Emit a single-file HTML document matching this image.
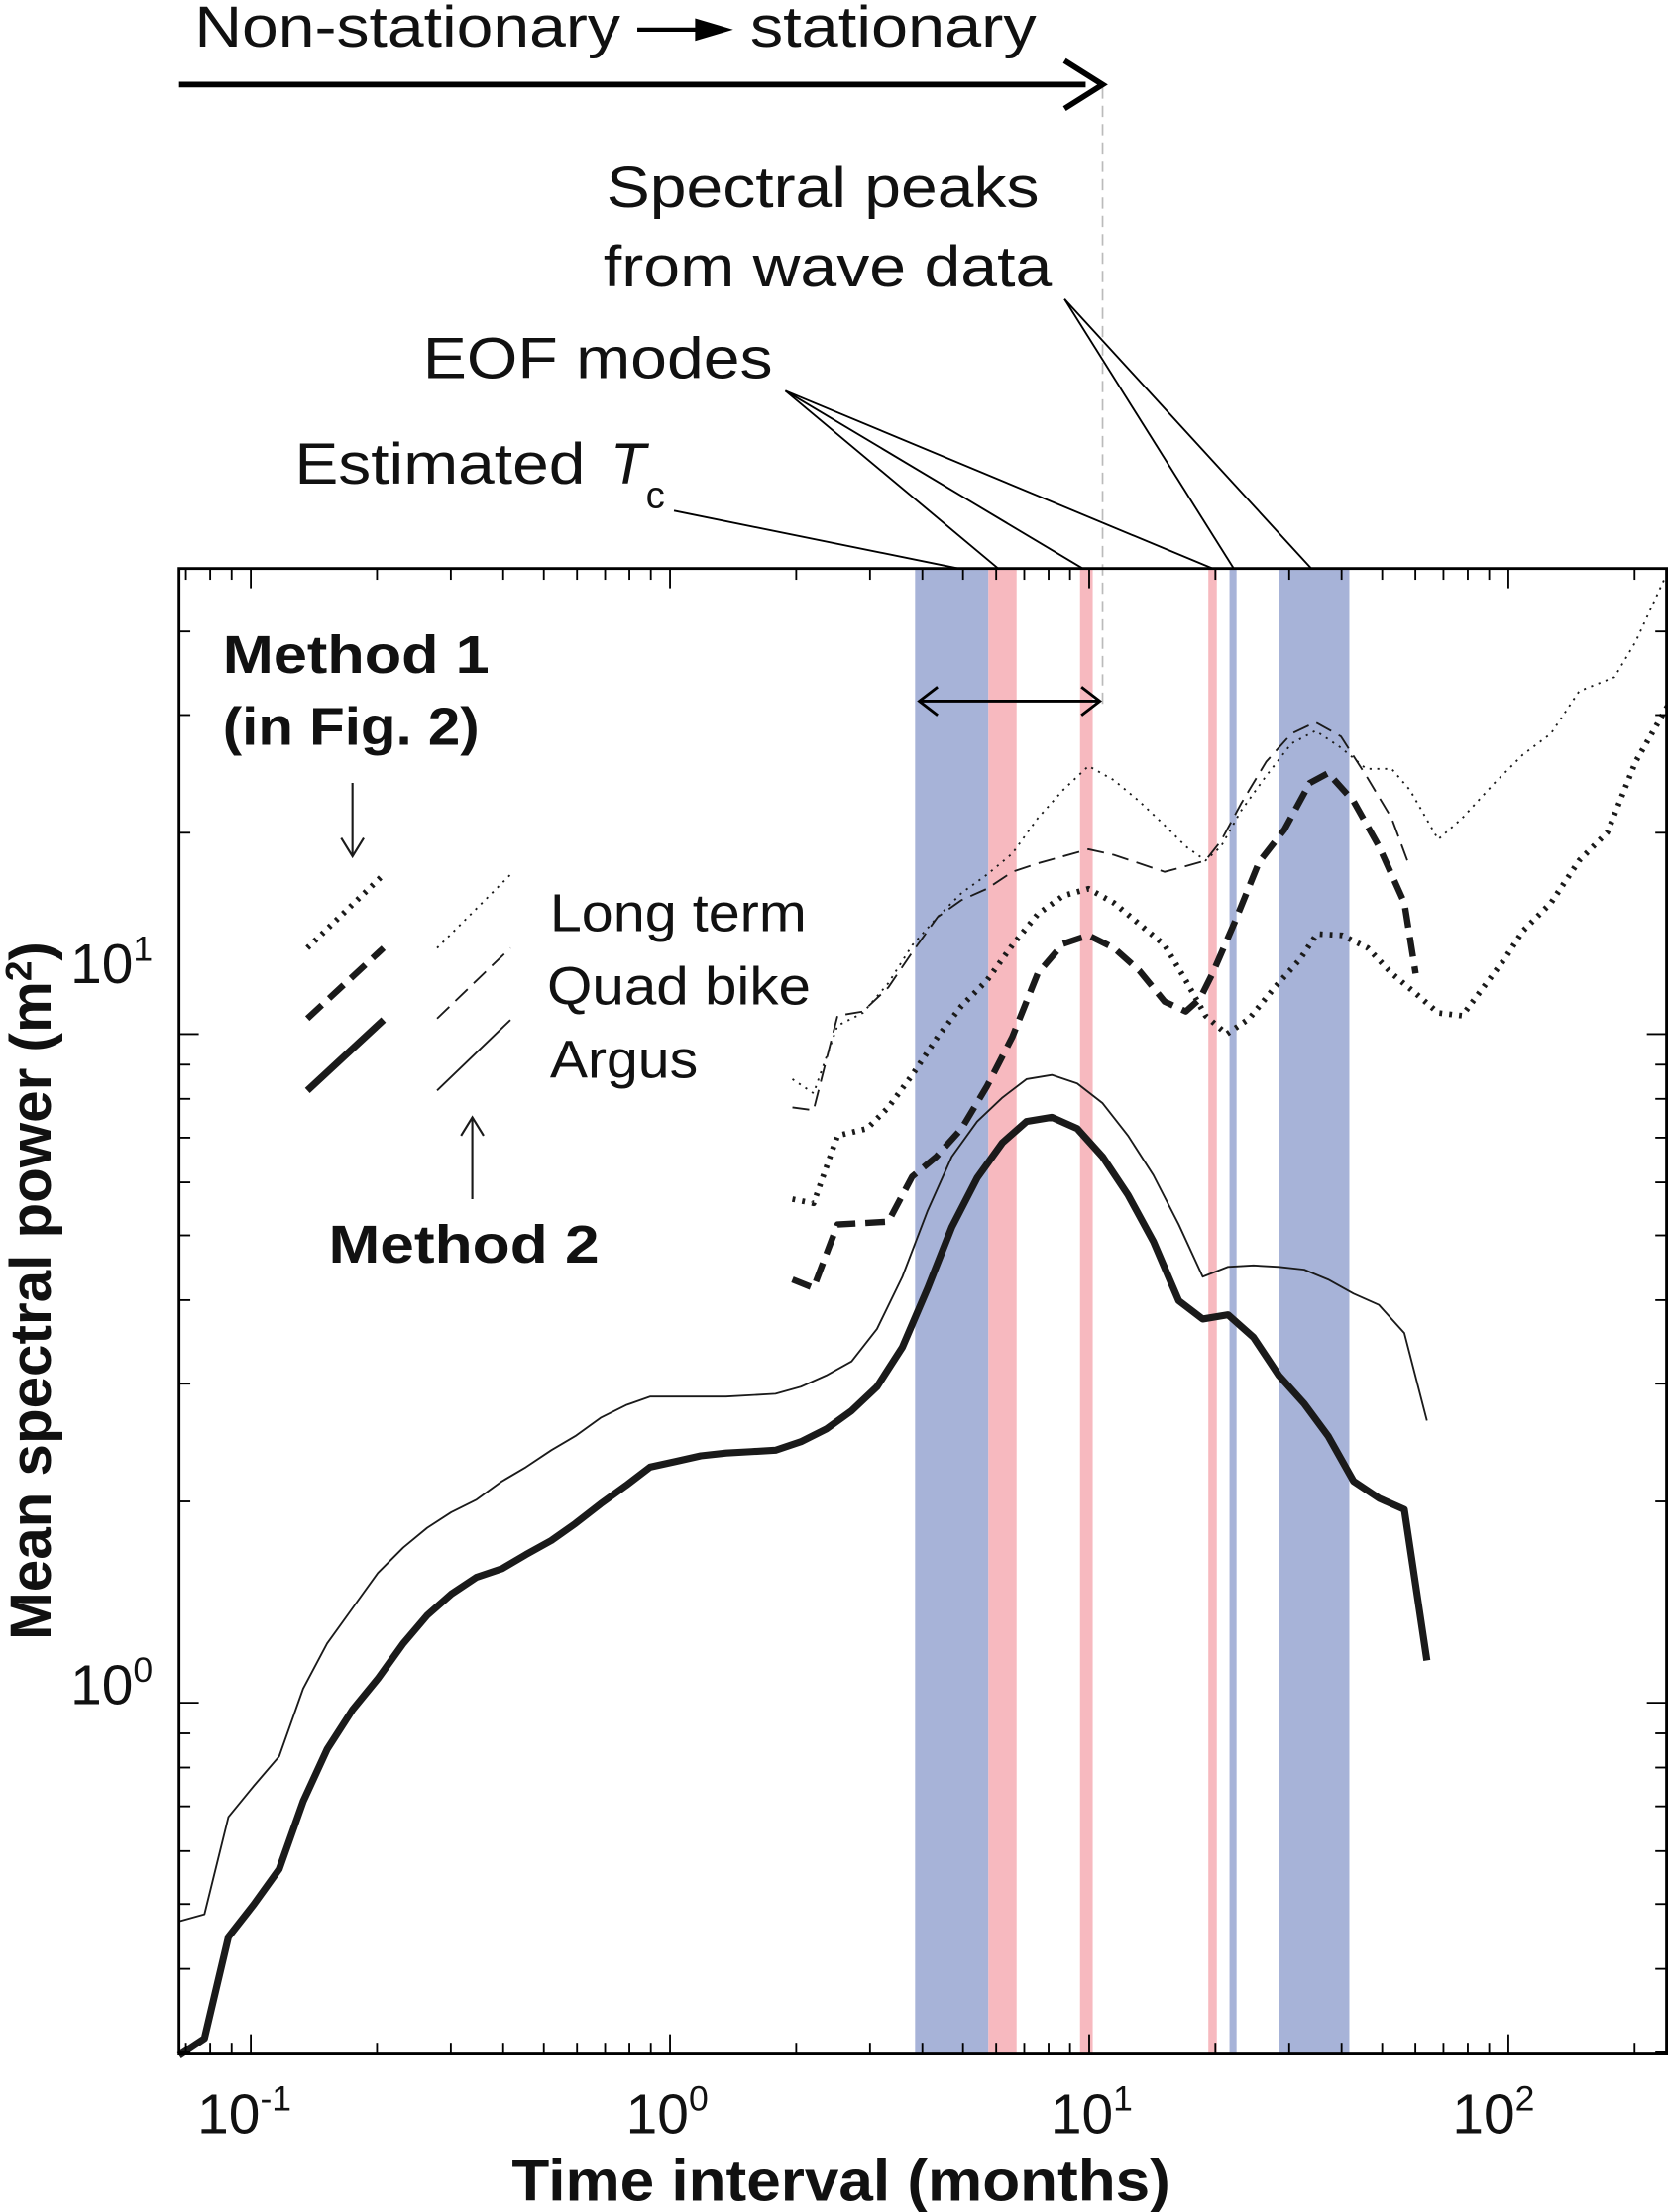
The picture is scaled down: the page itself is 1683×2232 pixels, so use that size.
<!DOCTYPE html>
<html><head><meta charset="utf-8"><style>
html,body{margin:0;padding:0;background:#fff}
svg{display:block}
text{font-family:"Liberation Sans",Arial,sans-serif;fill:#111}
</style></head><body>
<svg id="s" width="1683" height="2232" viewBox="0 0 1183 1568" preserveAspectRatio="none" xmlns="http://www.w3.org/2000/svg">
<rect x="649" y="403" width="52" height="1053" fill="#a7b3d8"/>
<rect x="701" y="403" width="20" height="1053" fill="#f7b9bf"/>
<rect x="766" y="403" width="9" height="1053" fill="#f7b9bf"/>
<rect x="857" y="403" width="6" height="1053" fill="#f7b9bf"/>
<rect x="872" y="403" width="5" height="1053" fill="#a7b3d8"/>
<rect x="907" y="403" width="50" height="1053" fill="#a7b3d8"/>
<line x1="782" y1="62" x2="782" y2="500" stroke="#bbb" stroke-width="1.2" stroke-dasharray="8,5"/>
<line x1="127" y1="60" x2="770" y2="60" stroke="#000" stroke-width="4"/>
<path d="M755,43 L782,60 L755,77" fill="none" stroke="#000" stroke-width="4"/>
<text x="138" y="33" font-size="41" textLength="302" lengthAdjust="spacingAndGlyphs">Non-stationary</text>
<line x1="452" y1="21" x2="505" y2="21" stroke="#000" stroke-width="3"/>
<path d="M493,13 L520,21 L493,29 Z" fill="#000"/>
<text x="532" y="33" font-size="41" textLength="203" lengthAdjust="spacingAndGlyphs">stationary</text>
<text x="430" y="147" font-size="41" textLength="307" lengthAdjust="spacingAndGlyphs">Spectral peaks</text>
<text x="428" y="203" font-size="41" textLength="318" lengthAdjust="spacingAndGlyphs">from wave data</text>
<text x="300" y="268" font-size="41" textLength="248" lengthAdjust="spacingAndGlyphs">EOF modes</text>
<text x="209" y="343" font-size="41" textLength="206" lengthAdjust="spacingAndGlyphs">Estimated</text>
<text x="433" y="343" font-size="41" font-style="italic">T</text>
<text x="458" y="360" font-size="27">c</text>
<g stroke="#000" stroke-width="1.3" fill="none">
<polyline points="478,362 680,403"/>
<polyline points="557,277 708,403"/><polyline points="557,277 768,403"/><polyline points="557,277 860,403"/>
<polyline points="755,212 875,403"/><polyline points="755,212 930,403"/>
</g>
<line x1="652" y1="497" x2="780" y2="497" stroke="#000" stroke-width="2"/>
<path d="M665,487 L652,497 L665,507 M767,487 L780,497 L767,507" fill="none" stroke="#000" stroke-width="2"/>
<g id="curves" fill="none" stroke="#1a1a1a" stroke-linejoin="round"></g>
<g id="ticks" stroke="#000" stroke-width="1.3"></g>
<rect x="127" y="403" width="1055" height="1053" fill="none" stroke="#000" stroke-width="2"/>
<g fill="none" stroke="#1a1a1a">
<line x1="218" y1="672" x2="272" y2="620" stroke-width="4" stroke-dasharray="2,5"/>
<line x1="218" y1="722" x2="272" y2="672" stroke-width="4.5" stroke-dasharray="14,7"/>
<line x1="218" y1="773" x2="272" y2="723" stroke-width="5"/>
<line x1="310" y1="672" x2="362" y2="620" stroke-width="1.3" stroke-dasharray="1.5,4"/>
<line x1="310" y1="722" x2="362" y2="672" stroke-width="1.3" stroke-dasharray="12,6"/>
<line x1="310" y1="773" x2="362" y2="723" stroke-width="1.3"/>
<line x1="250" y1="555" x2="250" y2="606" stroke-width="1.5"/>
<path d="M242,594 L250,607 L258,594" stroke-width="1.5"/>
<line x1="335" y1="850" x2="335" y2="793" stroke-width="1.5"/>
<path d="M327,805 L335,792 L343,805" stroke-width="1.5"/>
</g>
<text x="390" y="660" font-size="38" textLength="182" lengthAdjust="spacingAndGlyphs">Long term</text>
<text x="388" y="712" font-size="38" textLength="187" lengthAdjust="spacingAndGlyphs">Quad bike</text>
<text x="390" y="764" font-size="38" textLength="105" lengthAdjust="spacingAndGlyphs">Argus</text>
<text x="158" y="477" font-size="38" font-weight="bold" textLength="189" lengthAdjust="spacingAndGlyphs">Method 1</text>
<text x="158" y="528" font-size="38" font-weight="bold" textLength="182" lengthAdjust="spacingAndGlyphs">(in Fig. 2)</text>
<text x="233" y="895" font-size="38" font-weight="bold" textLength="192" lengthAdjust="spacingAndGlyphs">Method 2</text>
<text x="50" y="697" font-size="40">10<tspan font-size="25" dy="-16">1</tspan></text>
<text x="50" y="1208" font-size="40">10<tspan font-size="25" dy="-16">0</tspan></text>
<text x="140" y="1512" font-size="40">10<tspan font-size="25" dy="-16">-1</tspan></text>
<text x="444" y="1512" font-size="40">10<tspan font-size="25" dy="-16">0</tspan></text>
<text x="745" y="1512" font-size="40">10<tspan font-size="25" dy="-16">1</tspan></text>
<text x="1030" y="1512" font-size="40">10<tspan font-size="25" dy="-16">2</tspan></text>
<text x="363" y="1560" font-size="41" font-weight="bold" textLength="467" lengthAdjust="spacingAndGlyphs">Time interval (months)</text>
<text transform="translate(36,915) rotate(-90)" font-size="41" font-weight="bold" text-anchor="middle">Mean spectral power (m<tspan font-size="26" dy="-14">2</tspan><tspan dy="14">)</tspan></text>
</svg>
<script>
var NS="http://www.w3.org/2000/svg";
function el(p,t,a){var e=document.createElementNS(NS,t);for(var k in a)e.setAttribute(k,a[k]);p.appendChild(e);return e;}
var C=document.getElementById('curves');
function pl(pts,w,da){var a={points:pts,'stroke-width':w};if(da)a['stroke-dasharray']=da;el(C,'polyline',a);}
pl("127,1457 145,1445 162,1373 180,1350 198,1325 215,1277 232,1240 250,1212 268,1190 286,1165 303,1145 320,1130 338,1118 356,1112 373,1102 391,1092 408,1080 426,1066 444,1053 461,1040 479,1036 497,1032 515,1030 533,1029 550,1028 568,1022 586,1013 604,1000 622,983 640,955 658,913 675,870 693,835 711,810 728,795 746,792 764,800 782,820 800,847 818,880 836,922 853,935 871,932 889,948 907,975 925,995 942,1018 960,1050 978,1062 996,1070 1012,1177",5);
pl("127,1362 145,1357 162,1288 180,1266 198,1245 215,1197 232,1165 250,1140 268,1115 286,1097 303,1083 320,1072 338,1063 356,1050 373,1040 391,1028 408,1018 426,1005 444,996 461,990 479,990 515,990 550,988 568,983 586,975 604,965 622,942 640,905 658,858 675,820 693,795 711,778 728,765 746,762 764,768 782,782 800,805 818,833 836,868 853,905 871,898 889,897 907,898 925,900 942,907 960,917 978,925 996,945 1012,1007",1.3);
pl("562,907 577,913 594,868 630,866 647,834 664,820 682,800 700,770 718,735 736,690 754,669 772,663 790,672 808,688 826,710 841,717 851,708 860,690 876,653 893,611 911,588 929,555 942,548 960,568 978,600 996,640 1004,690",4.5,"14,7");
pl("562,785 577,787 594,720 612,717 630,700 647,675 665,650 682,638 700,630 718,618 736,612 754,607 772,602 790,606 808,612 826,618 841,614 855,610 866,596 880,570 898,540 916,520 933,512 951,522 969,550 987,580 1000,615",1.3,"12,6");
pl("562,850 577,853 594,805 615,800 630,785 647,762 665,735 682,713 700,695 718,670 736,648 754,635 772,630 790,640 808,655 826,670 841,695 855,720 870,733 886,722 904,700 922,680 934,662 952,663 970,672 987,690 1005,705 1020,718 1037,720 1052,700 1067,680 1080,660 1100,640 1120,610 1140,590 1160,540 1183,500",4,"2,5");
pl("562,765 577,775 594,727 612,718 630,697 647,670 665,650 682,633 700,620 718,605 736,580 754,560 772,543 790,553 808,568 826,585 841,600 855,610 866,600 880,575 898,550 916,527 933,518 951,530 969,545 987,545 1000,560 1020,595 1037,580 1060,555 1080,535 1100,520 1120,490 1145,480 1160,455 1183,405",1.3,"1.5,4");
var T=document.getElementById('ticks');
function X(L){return 475.2+297.3*L;} function Y(L){return 1207-474*L;}
for(var d=-2;d<=2;d++)for(var m=1;m<=9;m++){var L=d+Math.log10(m);var x=X(L);if(x<128||x>1181)continue;var len=m==1?14:8;
el(T,'line',{x1:x,y1:1456,x2:x,y2:1456-len});el(T,'line',{x1:x,y1:403,x2:x,y2:403+len});}
for(var d=-1;d<=1;d++)for(var m=1;m<=9;m++){var L=d+Math.log10(m);var y=Y(L);if(y<404||y>1455)continue;var len=m==1?14:8;
el(T,'line',{x1:127,y1:y,x2:127+len,y2:y});el(T,'line',{x1:1182,y1:y,x2:1182-len,y2:y});}
</script>
</body></html>
